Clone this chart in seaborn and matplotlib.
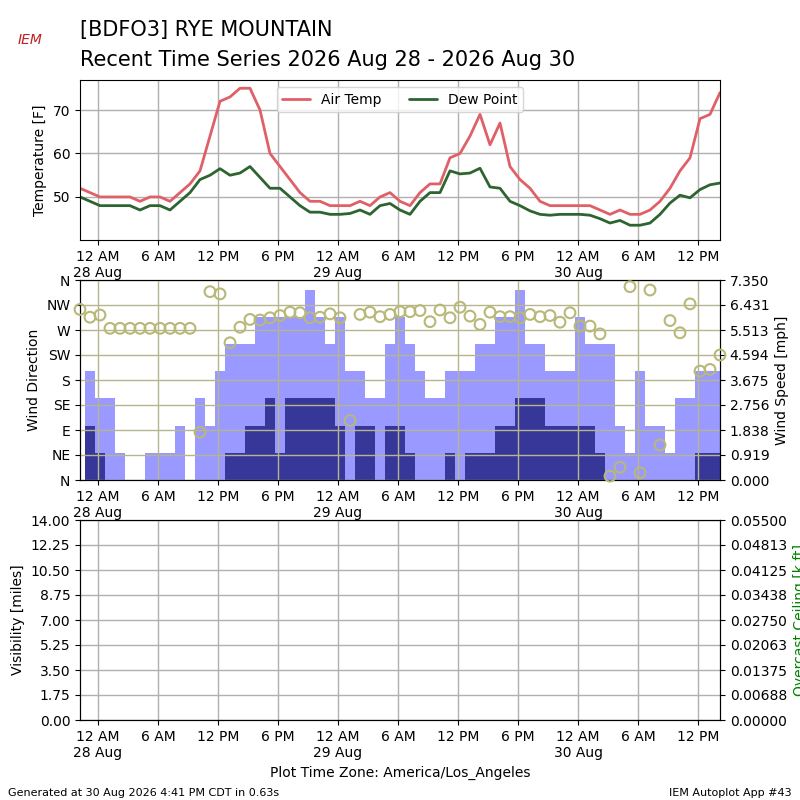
import numpy as np
import pandas as pd
import matplotlib
matplotlib.use("Agg")
import matplotlib.pyplot as plt
import matplotlib.dates as mdates
import seaborn as sns

# hourly observations, first one at 22:12 on 27 Aug
air_temp = [52, 51, 50, 50, 50, 50, 49, 50, 50, 49, 51, 53, 56, 64, 72, 73, 75, 75, 70, 60,
            57, 54, 51, 49, 49, 48, 48, 48, 49, 48, 50, 51, 49, 48, 51, 53, 53, 59, 60, 64,
            69, 62, 67, 57, 54, 52, 49, 48, 48, 48, 48, 48, 47, 46, 47, 46, 46, 47, 49, 52,
            56, 59, 68, 69, 74]
dew_point = [50, 49, 48, 48, 48, 48, 47, 48, 48, 47, 49, 51, 54, 55, 56.5, 55, 55.5, 57, 54.5, 52,
             52, 50, 48, 46.5, 46.5, 46, 46, 46.2, 47, 46, 48, 48.5, 47, 46, 49, 51, 51, 56, 55.3, 55.5,
             56.6, 52.3, 52, 49, 48, 46.8, 46, 45.8, 46, 46, 46, 45.8, 45, 44, 44.6, 43.5, 43.5, 44, 46, 48.6,
             50.4, 49.8, 51.7, 52.8, 53.2]
wind_dir = [307, 293, 297, 273, 273, 273, 273, 273, 273, 273, 273, 273, 86, 339, 335, 247, 275, 289, 288, 292,
            296, 302, 301, 292, 293, 299, 292, 107, 298, 302, 294, 298, 303, 303, 305, 285, 306, 292, 311, 295,
            280, 302, 294, 294, 292, 298, 294, 296, 284, 301, 277, 277, 263, 7, 23, 348, 13, 342, 63, 287,
            265, 317, 196, 199, 225]
wind_gust = [0, 4, 3, 3, 1, 0, 0, 1, 1, 1, 2, 0, 3, 2, 4, 5, 5, 5, 6, 6,
             6, 6, 6, 7, 6, 5, 6, 4, 4, 3, 3, 5, 6, 5, 4, 3, 3, 4, 4, 4,
             5, 5, 6, 6, 7, 5, 5, 4, 4, 4, 6, 5, 5, 5, 2, 1, 4, 2, 2, 1,
             3, 3, 4, 4, 4]
wind_speed = [0, 2, 1, 0, 0, 0, 0, 0, 0, 0, 0, 0, 0, 0, 0, 1, 1, 2, 2, 3,
              1, 3, 3, 3, 3, 3, 2, 0, 2, 2, 0, 2, 2, 1, 0, 0, 0, 1, 0, 1,
              1, 1, 2, 2, 3, 3, 3, 2, 2, 2, 2, 2, 1, 0, 0, 0, 0, 0, 0, 0,
              0, 0, 1, 1, 1]
speed_ticks = ["0.000", "0.919", "1.838", "2.756", "3.675", "4.594", "5.513", "6.431", "7.350"]

times = pd.date_range("2026-08-27 22:12", periods=len(air_temp), freq="h")
df = pd.DataFrame({"valid": times, "tmpf": air_temp, "dwpf": dew_point,
                   "drct": wind_dir, "gust": wind_gust, "sknt": wind_speed})

sns.set_style("ticks")
plt.rcParams["font.family"] = ["DejaVu Sans"]
plt.rcParams["text.color"] = "black"
plt.rcParams["axes.labelcolor"] = "black"
plt.rcParams["xtick.color"] = "black"
plt.rcParams["ytick.color"] = "black"
plt.rcParams["axes.edgecolor"] = "black"

fig = plt.figure(figsize=(8, 8), dpi=100)
ax1 = fig.add_axes([0.1, 0.70, 0.8, 0.20])
ax2 = fig.add_axes([0.1, 0.40, 0.8, 0.25])
ax3 = fig.add_axes([0.1, 0.10, 0.8, 0.25])

xmin, xmax = times[0], times[-1]


def fmt_time(x, pos=None):
    d = mdates.num2date(x)
    h = d.hour % 12
    h = 12 if h == 0 else h
    lab = "%d %s" % (h, "AM" if d.hour < 12 else "PM")
    if d.hour == 0:
        lab += "\n" + d.strftime("%d %b")
    return lab


def style_time(ax):
    ax.set_xlim(xmin, xmax)
    ax.xaxis.set_major_locator(mdates.HourLocator(byhour=[0, 6, 12, 18]))
    ax.xaxis.set_major_formatter(plt.FuncFormatter(fmt_time))
    ax.grid(True, color="#b0b0b0", lw=1)
    ax.set_axisbelow(True)


# temperatures
sns.lineplot(data=df, x="valid", y="tmpf", ax=ax1, color="#e06068", lw=2, label="Air Temp")
sns.lineplot(data=df, x="valid", y="dwpf", ax=ax1, color="#2e6430", lw=2, label="Dew Point")
ax1.set_ylim(40.1, 76.9)
ax1.set_yticks([50, 60, 70])
ax1.set_ylabel("Temperature [F]")
ax1.set_xlabel("")
ax1.legend(loc="upper center", ncol=2, bbox_to_anchor=(0.5, 1.0))
style_time(ax1)

# wind
ax2r = ax2.twinx()
width = 1 / 24.0
ax2r.bar(df["valid"], df["gust"], width=width, color="#9999ff", linewidth=0, zorder=1)
ax2r.bar(df["valid"], df["sknt"], width=width, color="#373699", linewidth=0, zorder=2)
ax2r.set_ylim(0, 7.35)
ax2r.set_yticks(np.linspace(0, 7.35, 9))
ax2r.set_yticklabels(speed_ticks)
ax2r.set_ylabel("Wind Speed [mph]")
ax2.set_zorder(ax2r.get_zorder() + 1)
ax2.patch.set_visible(False)
sns.scatterplot(data=df, x="valid", y="drct", ax=ax2, s=60, facecolor="none",
                edgecolor="#b8b878", linewidth=1.5, zorder=5, clip_on=False)
ax2.set_ylim(0, 360)
ax2.set_yticks(range(0, 361, 45))
ax2.set_yticklabels(["N", "NE", "E", "SE", "S", "SW", "W", "NW", "N"])
ax2.set_ylabel("Wind Direction")
ax2.set_xlabel("")
style_time(ax2)
ax2.grid(True, color="#b5b590", lw=1)
ax2r.set_xlim(xmin, xmax)

# visibility / ceiling (no data)
ax3r = ax3.twinx()
ax3.set_ylim(0, 14)
ax3.set_yticks(np.linspace(0, 14, 9))
ax3.yaxis.set_major_formatter(plt.FormatStrFormatter("%.2f"))
ax3.set_ylabel("Visibility [miles]")
ax3r.set_ylim(0, 0.055)
ax3r.set_yticks(np.linspace(0, 0.055, 9))
ax3r.yaxis.set_major_formatter(plt.FormatStrFormatter("%.5f"))
ax3r.set_ylabel("Overcast Ceiling [k ft]", color="green")
style_time(ax3)
ax3.set_xlabel("Plot Time Zone: America/Los_Angeles")

fig.text(0.1, 0.955, "[BDFO3] RYE MOUNTAIN", fontsize=15)
fig.text(0.1, 0.918, "Recent Time Series 2026 Aug 28 - 2026 Aug 30", fontsize=15)
fig.text(0.038, 0.945, "IEM", fontsize=10, color="#c02020", style="italic", ha="center")
fig.text(0.01, 0.005, "Generated at 30 Aug 2026 4:41 PM CDT in 0.63s", fontsize=8)
fig.text(0.99, 0.005, "IEM Autoplot App #43", fontsize=8, ha="right")

fig.savefig("out.png", dpi=100)
